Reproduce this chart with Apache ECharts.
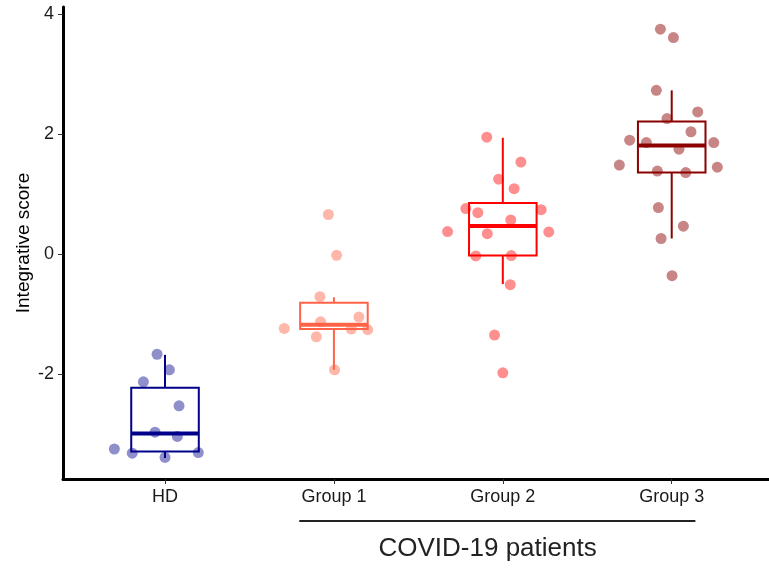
<!DOCTYPE html>
<html>
<head>
<meta charset="utf-8">
<script src="https://cdn.jsdelivr.net/npm/echarts@6/dist/echarts.min.js"></script>
<style>
  html, body { margin: 0; padding: 0; background: #fff; }
  #chart { width: 769px; height: 569px; }
</style>
</head>
<body>
<div id="chart"></div>
<script>
// categories and colours
const categories = ['HD', 'Group 1', 'Group 2', 'Group 3']
const boxColors = ['#00008B', '#FF6347', '#FF0000', '#8B0000']
const pointColors = ['rgba(0,0,139,0.55)', 'rgba(255,99,71,0.58)', 'rgba(255,0,0,0.55)', 'rgba(139,0,0,0.6)']

// box stats per group: [lower whisker, Q1, median, Q3, upper whisker]
const boxStats = [
  [-3.40, -3.29, -2.99, -2.23, -1.68],
  [-1.93, -1.25, -1.18, -0.81, -0.72],
  [-0.50, -0.025, 0.47, 0.853, 1.94],
  [0.26, 1.36, 1.81, 2.21, 2.73]
]

// individual scores and horizontal jitter (in category units)
const hdScores = [-1.67, -1.93, -2.13, -2.53, -2.97, -3.04, -3.25, -3.32, -3.31, -3.39]
const hdJitter = [-0.047, 0.026, -0.128, 0.083, -0.059, 0.073, -0.30, -0.194, 0.197, 0]

const group1Scores = [0.66, -0.02, -0.71, -1.05, -1.13, -1.24, -1.25, -1.26, -1.38, -1.93]
const group1Jitter = [-0.033, 0.016, -0.083, 0.148, -0.079, -0.294, 0.103, 0.2, -0.104, 0.004]

const group2Scores = [1.95, 1.535, 1.25, 1.09, 0.76, 0.69, 0.74, 0.57, 0.375, 0.34, 0.37, -0.03, -0.025, -0.51, -1.35, -1.98]
const group2Jitter = [-0.095, 0.107, -0.025, 0.067, -0.219, -0.148, 0.227, 0.047, -0.327, -0.092, 0.272, -0.16, 0.05, 0.044, -0.049, 0]

const group3Scores = [3.75, 3.61, 2.73, 2.37, 2.26, 2.04, 1.90, 1.86, 1.86, 1.75, 1.485, 1.45, 1.385, 1.36, 0.775, 0.465, 0.26, -0.36]
const group3Jitter = [-0.067, 0.01, -0.091, 0.154, -0.028, 0.114, -0.249, -0.15, 0.249, 0.043, -0.31, 0.27, -0.085, 0.083, -0.079, 0.069, -0.063, 0.002]

const yTicks = [-2, 0, 2, 4]

const groupScores = [hdScores, group1Scores, group2Scores, group3Scores]
const groupJitter = [hdJitter, group1Jitter, group2Jitter, group3Jitter]

const font = 'Liberation Sans, Arial, sans-serif'
const chart = echarts.init(document.getElementById('chart'))

function renderBox(params, api) {
  const x = api.value(0)
  const color = boxColors[x - 1]
  const half = api.size([0.2, 0])[0]
  const lo = api.coord([x, api.value(1)])
  const q1 = api.coord([x, api.value(2)])
  const med = api.coord([x, api.value(3)])
  const q3 = api.coord([x, api.value(4)])
  const hi = api.coord([x, api.value(5)])
  const cx = q1[0]
  return {
    type: 'group',
    children: [
      { type: 'line', shape: { x1: cx, y1: hi[1], x2: cx, y2: q3[1] }, style: { stroke: color, lineWidth: 2 } },
      { type: 'line', shape: { x1: cx, y1: q1[1], x2: cx, y2: lo[1] }, style: { stroke: color, lineWidth: 2 } },
      { type: 'rect', shape: { x: cx - half, y: q3[1], width: half * 2, height: q1[1] - q3[1] }, style: { stroke: color, fill: 'none', lineWidth: 2 } },
      { type: 'line', shape: { x1: cx - half, y1: med[1], x2: cx + half, y2: med[1] }, style: { stroke: color, lineWidth: 4 } }
    ]
  }
}

const series = [{
  type: 'custom',
  renderItem: renderBox,
  encode: { x: 0, y: [1, 2, 3, 4, 5] },
  data: boxStats.map((s, i) => [i + 1].concat(s)),
  z: 2
}]
groupScores.forEach((scores, i) => {
  series.push({
    type: 'scatter',
    symbolSize: 11,
    itemStyle: { color: pointColors[i] },
    data: scores.map((v, j) => [i + 1 + groupJitter[i][j], v]),
    z: 3
  })
})

chart.setOption({
  backgroundColor: '#fff',
  animation: false,
  grid: { left: 63, right: 0, top: 7, bottom: 90 },
  xAxis: {
    type: 'value',
    min: 0.396,
    max: 4.576,
    splitLine: { show: false },
    axisLine: { onZero: false, lineStyle: { color: '#000', width: 3 } },
    axisTick: { customValues: [1, 2, 3, 4], length: 5, lineStyle: { color: '#333' } },
    axisLabel: {
      customValues: [1, 2, 3, 4],
      formatter: v => categories[Math.round(v) - 1],
      fontSize: 18,
      fontFamily: font,
      color: '#1a1a1a',
      margin: 9
    }
  },
  yAxis: {
    type: 'value',
    min: -3.75,
    max: 4.12,
    name: 'Integrative score',
    nameLocation: 'middle',
    nameRotate: 90,
    nameGap: 30,
    nameMoveOverlap: false,
    nameTextStyle: { fontSize: 19, fontFamily: font, color: '#000' },
    splitLine: { show: false },
    axisLine: { onZero: false, lineStyle: { color: '#000', width: 3 } },
    axisTick: { customValues: yTicks, length: 5, lineStyle: { color: '#333' } },
    axisLabel: {
      customValues: yTicks,
      fontSize: 18,
      fontFamily: font,
      color: '#1a1a1a',
      margin: 9
    }
  },
  series: series
})

// bracket for the COVID-19 patients groups
const left = chart.convertToPixel({ gridIndex: 0 }, [1.795, 0])
const right = chart.convertToPixel({ gridIndex: 0 }, [4.14, 0])
const mid = chart.convertToPixel({ gridIndex: 0 }, [2.91, 0])
chart.setOption({
  graphic: [
    {
      type: 'line',
      shape: { x1: left[0], y1: 521, x2: right[0], y2: 521 },
      style: { stroke: '#222', lineWidth: 2 }
    },
    {
      type: 'text',
      x: mid[0],
      y: 549,
      style: {
        text: 'COVID-19 patients',
        fontSize: 26,
        fontFamily: font,
        fill: '#222',
        textAlign: 'center',
        textVerticalAlign: 'middle'
      }
    }
  ]
})
</script>
</body>
</html>
